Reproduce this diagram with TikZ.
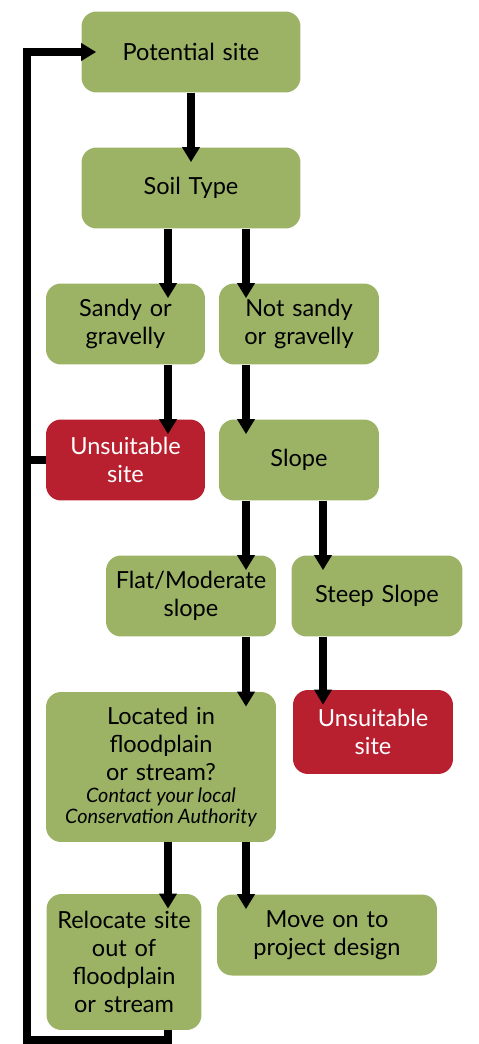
\documentclass[tikz,border=0pt]{standalone}
\usepackage{fontspec}
\setmainfont{Lato}
\usetikzlibrary{arrows.meta}

\definecolor{leaf}{HTML}{9CB366}
\definecolor{stop}{HTML}{B8202F}

\begin{document}
\begin{tikzpicture}[
   x=0.02cm, y=-0.02cm,
   box/.style={rounded corners=0.3cm, fill=leaf, text=black, align=center,
               inner sep=0pt, minimum height=1.62cm,
               font=\fontsize{13.4}{15.9}\selectfont},
   badbox/.style={box, fill=stop, text=white},
   flow/.style={line width=4pt, -{Triangle[width=3.4mm,length=3mm]}, shorten >=-3mm},
   link/.style={line width=4pt}]

\useasboundingbox (0,0) rectangle (478,1044);

% lanes of the arrows
\coordinate (laneL) at (27,0);
\coordinate (laneA) at (168,0);
\coordinate (laneB) at (191,0);
\coordinate (laneC) at (246,0);
\coordinate (laneD) at (323,0);
\coordinate (lpbot) at (27,1040);

\node[box, minimum width=4.38cm, text width=4.2cm] (pot) at (191,52) {Potential site};
\node[box, minimum width=4.38cm, text width=4.2cm] (soil) at (191,188) {Soil Type};
\node[box, minimum width=3.18cm, text width=3cm] (sandy) at (125.5,324) {Sandy or\\gravelly};
\node[box, minimum width=3.2cm, text width=3cm] (notsandy) at (299,324) {Not sandy\\or gravelly};
\node[badbox, minimum width=3.18cm, text width=3cm] (bad1) at (125.5,460) {Unsuitable\\site};
\node[box, minimum width=3.2cm, text width=3cm] (slope) at (299,460) {Slope};
\node[box, minimum width=3.4cm, text width=3.3cm] (flat) at (191,596) {Flat/Moderate\\slope};
\node[box, minimum width=3.42cm, text width=3.3cm] (steep) at (377,596) {Steep Slope};
\node[box, minimum width=4.6cm, minimum height=3cm, text width=4.4cm] (flood) at (161,767)
   {Located in\\floodplain\\or stream?\par\vspace{3pt}
    \parbox{4.4cm}{\centering\fontsize{11.3}{12.2}\selectfont\itshape
      \spaceskip=0.22em plus 0.05em Contact your local\\Conservation Authority}};
\node[badbox, minimum width=3.2cm, minimum height=1.68cm, text width=3cm] (bad2) at (373,732) {Unsuitable\\site};
\node[box, minimum width=3.1cm, minimum height=2.72cm, text width=3cm] (reloc) at (124,962) {Relocate site\\out of\\floodplain\\or stream};
\node[box, minimum width=4.4cm, text width=4.2cm] (move) at (327,935) {Move on to\\project design};

\draw[flow] (pot.south -| laneB) -- (soil.north -| laneB);
\draw[flow] (soil.south -| laneA) -- (sandy.north -| laneA);
\draw[flow] (soil.south -| laneC) -- (notsandy.north -| laneC);
\draw[flow] (sandy.south -| laneA) -- (bad1.north -| laneA);
\draw[flow] (notsandy.south -| laneC) -- (slope.north -| laneC);
\draw[flow] (slope.south -| laneC) -- (flat.north -| laneC);
\draw[flow] (slope.south -| laneD) -- (steep.north -| laneD);
\draw[flow] (flat.south -| laneC) -- (flood.north -| laneC);
\draw[flow] (steep.south -| laneD) -- (bad2.north -| laneD);
\draw[flow] (flood.south -| laneA) -- (reloc.north -| laneA);
\draw[flow] (flood.south -| laneC) -- (move.north -| laneC);

% back to the start
\draw[flow] (reloc.south -| laneA) |- (lpbot) |- (pot.west);
\draw[link] (bad1.west) -- (bad1.west -| laneL);

\end{tikzpicture}
\end{document}
